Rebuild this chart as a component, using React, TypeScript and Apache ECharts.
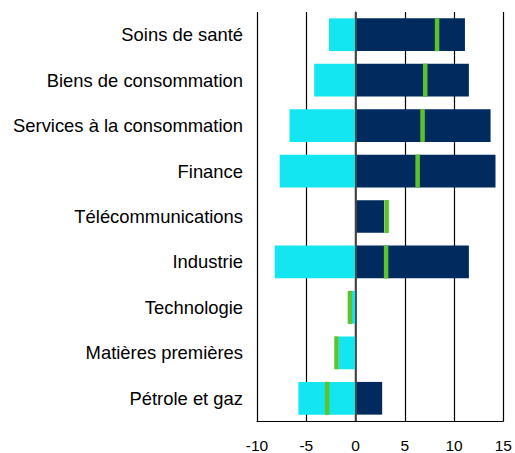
import React, { useEffect, useRef } from "react";
import * as echarts from "echarts";

const categories = [
  "Soins de santé",
  "Biens de consommation",
  "Services à la consommation",
  "Finance",
  "Télécommunications",
  "Industrie",
  "Technologie",
  "Matières premières",
  "Pétrole et gaz",
];
const positives = [11.1, 11.5, 13.7, 14.2, 2.9, 11.5, 0, 0, 2.7];
const negatives = [-2.7, -4.2, -6.7, -7.7, 0, -8.2, -0.4, -1.7, -5.8];
const netMarkers = [8.27, 7.07, 6.8, 6.3, 3.15, 3.1, -0.57, -1.93, -2.88];
const xTicks = [-10, -5, 0, 5, 10, 15];

export default function App() {
  const ref = useRef<HTMLDivElement>(null);
  useEffect(() => {
    if (!ref.current) return;
    const chart = echarts.init(ref.current, null, { renderer: "svg" });
    chart.setOption({
      animation: false,
      grid: { left: 257, right: 9, top: 12, bottom: 30, containLabel: false },
      xAxis: {
        type: "value",
        min: xTicks[0],
        max: xTicks[xTicks.length - 1],
        interval: 5,
        axisLine: { show: true, onZero: false, lineStyle: { color: "#000", width: 1.2 } },
        axisTick: { show: false },
        axisLabel: {
          color: "#000",
          fontSize: 15.5,
          fontFamily: "Liberation Sans, Arial, sans-serif",
          margin: 16,
        },
        splitLine: { show: true, lineStyle: { color: "#000", width: 1.2 } },
      },
      yAxis: {
        type: "category",
        data: categories,
        inverse: true,
        axisLine: { show: true, lineStyle: { color: "#000", width: 1.2 } },
        axisTick: { show: false },
        axisLabel: {
          color: "#000",
          fontSize: 18.4,
          fontFamily: "Liberation Sans, Arial, sans-serif",
          margin: 14,
        },
        splitLine: { show: false },
      },
      series: [
        {
          type: "bar",
          data: negatives,
          barWidth: "72%",
          barGap: "-100%",
          itemStyle: { color: "#13E6F0" },
        },
        {
          type: "bar",
          data: positives,
          barWidth: "72%",
          barGap: "-100%",
          itemStyle: { color: "#012A5E" },
        },
        {
          type: "scatter",
          data: netMarkers.map((v, i) => [v, i]),
          symbol: "rect",
          symbolSize: [4.5, 33],
          itemStyle: { color: "#5CC22E", opacity: 1 },
          z: 5,
          markLine: {
            silent: true,
            symbol: ["none", "none"],
            label: { show: false },
            lineStyle: { color: "#4a4a4a", width: 1.8, type: "solid" },
            data: [{ xAxis: 0 }],
          },
        },
      ],
    });
    return () => chart.dispose();
  }, []);
  return <div ref={ref} style={{ width: 515, height: 453, position: "absolute", left: 0, top: 0 }} />;
}
